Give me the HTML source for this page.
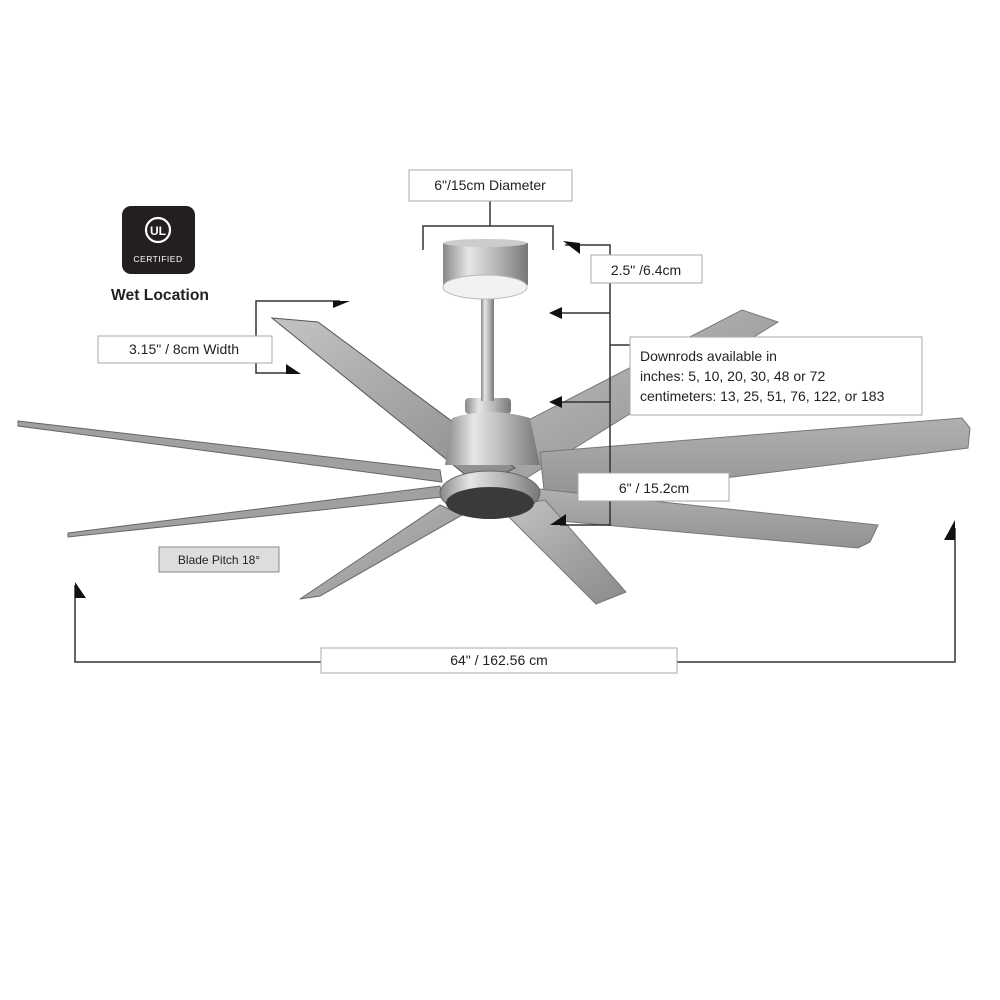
<!DOCTYPE html>
<html><head><style>
html,body{margin:0;padding:0;background:#fff;width:1000px;height:1000px;overflow:hidden}
svg{display:block}
text{font-family:"Liberation Sans",sans-serif;fill:#222}
</style></head><body>
<svg width="1000" height="1000" viewBox="0 0 1000 1000" xmlns="http://www.w3.org/2000/svg">
<defs>
<linearGradient id="bl" x1="0" y1="0" x2="1" y2="1">
<stop offset="0" stop-color="#c4c4c4"/><stop offset="0.5" stop-color="#a6a6a6"/><stop offset="1" stop-color="#8a8a8a"/>
</linearGradient>
<linearGradient id="bl2" x1="0" y1="0" x2="0" y2="1">
<stop offset="0" stop-color="#b0b0b0"/><stop offset="1" stop-color="#929292"/>
</linearGradient>
<linearGradient id="met" x1="0" y1="0" x2="1" y2="0">
<stop offset="0" stop-color="#888"/><stop offset="0.3" stop-color="#e6e6e6"/><stop offset="0.6" stop-color="#bbb"/><stop offset="1" stop-color="#777"/>
</linearGradient>
</defs>
<polygon points="480,445 742,310 778,322 520,482" fill="url(#bl)" stroke="#777" stroke-width="1"/>
<polygon points="540,452 962,418 970,428 968,448 545,500" fill="url(#bl2)" stroke="#777"/>
<polygon points="530,488 878,525 870,542 858,548 528,518" fill="url(#bl2)" stroke="#777"/>
<polygon points="500,508 545,500 626,592 596,604" fill="url(#bl)" stroke="#777"/>
<polygon points="440,505 462,515 320,596 300,599" fill="url(#bl)" stroke="#666"/>
<polygon points="18,421 440,470 442,482 18,426" fill="#a0a0a0" stroke="#666" stroke-width="1"/>
<polygon points="68,533 440,486 442,497 68,537" fill="#a0a0a0" stroke="#666" stroke-width="1"/>
<polygon points="272,318 318,322 515,468 478,485" fill="url(#bl)" stroke="#555"/>
<rect x="465" y="398" width="46" height="16" rx="4" fill="url(#met)"/>
<path d="M452,418 Q490,406 530,418 L540,465 L445,465 Z" fill="url(#met)"/>
<ellipse cx="490" cy="493" rx="50" ry="22" fill="url(#met)" stroke="#666"/>
<ellipse cx="490" cy="503" rx="44" ry="16" fill="#3a3a3a"/>
<rect x="481" y="298" width="13" height="103" fill="url(#met)"/>
<rect x="443" y="243" width="85" height="42" fill="url(#met)"/>
<ellipse cx="485" cy="243" rx="42" ry="4" fill="#ccc"/>
<ellipse cx="485" cy="287" rx="42" ry="12" fill="#f2f2f2" stroke="#bbb"/>
<g stroke="#333" stroke-width="1.5" fill="none">
<path d="M490,200 V226 M423,250 V226 H553 V250"/>
<path d="M565,245 H610 V525 H560 M610,313 H560 M610,402 H560 M610,345 H632"/>
<path d="M340,301 H256 V373 H295"/>
<path d="M75,585 V662 H955 V528"/>
</g>
<g fill="#111">
<polygon points="563,241 580,243 580,254"/>
<polygon points="549,313 562,307 562,319"/>
<polygon points="549,402 562,396 562,408"/>
<polygon points="550,525 566,514 566,525"/>
<polygon points="333,301 350,301 333,308"/>
<polygon points="286,364 301,374 286,374"/>
<polygon points="75,582 86,598 75,598"/>
<polygon points="955,520 955,540 944,540"/>
</g>
<g fill="#fff" stroke="#aaa" stroke-width="1">
<rect x="409" y="170" width="163" height="31"/>
<rect x="591" y="255" width="111" height="28"/>
<rect x="630" y="337" width="292" height="78"/>
<rect x="578" y="473" width="151" height="28"/>
<rect x="98" y="336" width="174" height="27"/>
<rect x="159" y="547" width="120" height="25" fill="#ddd" stroke="#888"/>
<rect x="321" y="648" width="356" height="25"/>
</g>
<text x="490" y="190" font-size="14" text-anchor="middle">6"/15cm Diameter</text>
<text x="646" y="275" font-size="14" text-anchor="middle">2.5" /6.4cm</text>
<text x="640" y="361" font-size="14">Downrods available in</text>
<text x="640" y="381" font-size="14">inches: 5, 10, 20, 30, 48 or 72</text>
<text x="640" y="401" font-size="14">centimeters: 13, 25, 51, 76, 122, or 183</text>
<text x="654" y="493" font-size="14" text-anchor="middle">6" / 15.2cm</text>
<text x="184" y="354" font-size="14" text-anchor="middle">3.15" / 8cm Width</text>
<text x="219" y="564" font-size="12" text-anchor="middle">Blade Pitch 18°</text>
<text x="499" y="665" font-size="14" text-anchor="middle">64" / 162.56 cm</text>
<rect x="122" y="206" width="73" height="68" rx="9" fill="#231f20"/>
<circle cx="158" cy="230" r="12" fill="none" stroke="#fff" stroke-width="2.2"/>
<text x="158" y="235" font-size="12" font-weight="bold" text-anchor="middle" style="fill:#fff">UL</text>
<text x="158" y="262" font-size="8.5" text-anchor="middle" letter-spacing="0.5" style="fill:#fff">CERTIFIED</text>
<text x="160" y="300" font-size="16" font-weight="bold" text-anchor="middle" textLength="98" lengthAdjust="spacingAndGlyphs">Wet Location</text>
</svg>
</body></html>
